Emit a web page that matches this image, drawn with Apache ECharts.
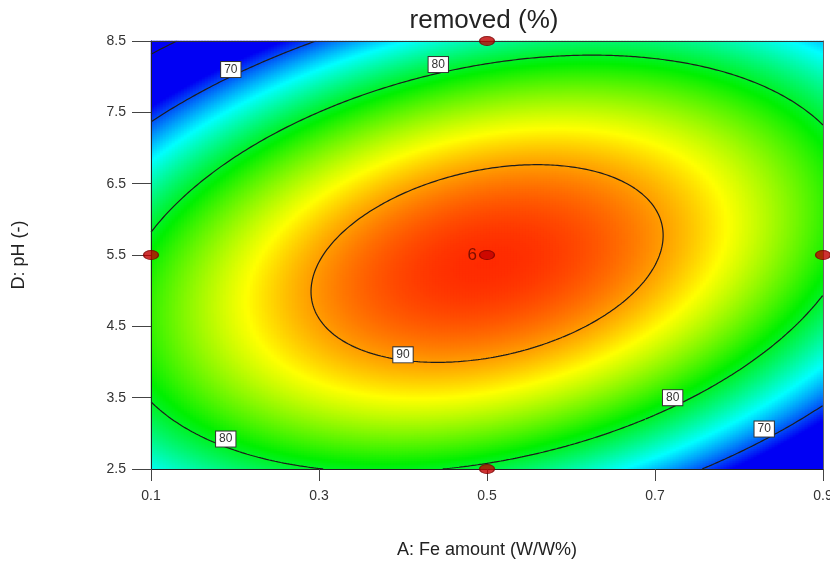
<!DOCTYPE html>
<html>
<head>
<meta charset="utf-8">
<script src="https://cdn.jsdelivr.net/npm/echarts@6/dist/echarts.min.js"></script>
<style>
  html, body { margin: 0; padding: 0; background: #fff; overflow: hidden; }
  #chart { width: 830px; height: 564px; }
</style>
</head>
<body>
<div id="chart"></div>
<script>
// ---------------- data ----------------
const titleText = 'removed (%)';
const xName = 'A: Fe amount (W/W%)';
const yName = 'D: pH (-)';
const aRange = [0.1, 0.9];            // factor A, actual units
const dRange = [2.5, 8.5];            // factor D, actual units
const aTicks = [0.1, 0.3, 0.5, 0.7, 0.9];
const dTicks = [2.5, 3.5, 4.5, 5.5, 6.5, 7.5, 8.5];
// quadratic response-surface model estimated from the contours (coded units -1..1)
const modelTerms = ['Intercept', 'A', 'D', 'AD', 'A^2', 'D^2'];
const modelCoef  = [92.88, 0.30, -1.18, 7.4, -11.5, -14.8];
const contourLevels = [60, 70, 80, 90];
// contour labels (level, where the label box sits)
const labelLevel = [70, 80, 80, 80, 70, 90];
const labelA     = [0.195, 0.442, 0.189, 0.721, 0.830, 0.400];
const labelD     = [8.10, 8.17, 2.92, 3.50, 3.06, 4.10];
// design points
const designA    = [0.1, 0.5, 0.5, 0.9, 0.5];
const designD    = [5.5, 8.5, 2.5, 5.5, 5.5];
const designRuns = [1, 1, 1, 1, 6];
// colour scale
const colorMin = 55, colorMax = 94;
const colorRamp = ['#0000f4', '#0000f4', '#0000f4', '#00ffff', '#00f000', '#ffff00', '#ff0000'];

// ---------------- build tables for the library ----------------
const aMid = (aRange[0] + aRange[1]) / 2, aHalf = (aRange[1] - aRange[0]) / 2;
const dMid = (dRange[0] + dRange[1]) / 2, dHalf = (dRange[1] - dRange[0]) / 2;
function predict(A, D) {
  const a = (A - aMid) / aHalf, d = (D - dMid) / dHalf, c = modelCoef;
  return c[0] + c[1] * a + c[2] * d + c[3] * a * d + c[4] * a * a + c[5] * d * d;
}
const NX = 224, NY = 214;
const xCats = [], yCats = [], cells = [];
for (let i = 0; i < NX; i++) xCats.push(String(i));
for (let j = 0; j < NY; j++) yCats.push(String(j));
for (let i = 0; i < NX; i++) {
  const A = aRange[0] + (i + 0.5) * (aRange[1] - aRange[0]) / NX;
  for (let j = 0; j < NY; j++) {
    const D = dRange[0] + (j + 0.5) * (dRange[1] - dRange[0]) / NY;
    cells.push([i, j, predict(A, D)]);
  }
}
// contour lines of the quadratic model (ellipses around the stationary point)
const [b0, bA, bD, bAD, bAA, bDD] = modelCoef;
const det = 4 * bAA * bDD - bAD * bAD;
const a0 = (-2 * bA * bDD + bAD * bD) / det;
const d0 = (-2 * bAA * bD + bA * bAD) / det;
const ys = b0 + 0.5 * (bA * a0 + bD * d0);
const P = -bAA, Qd = -bDD, Rm = -bAD / 2;
const hh = Math.sqrt(((P - Qd) / 2) ** 2 + Rm * Rm);
const l1 = (P + Qd) / 2 + hh, l2 = (P + Qd) / 2 - hh;
const th = 0.5 * Math.atan2(2 * Rm, P - Qd);
function contourPoints(level) {
  const k = ys - level, pts = [];
  if (k <= 0) return pts;
  const s1 = Math.sqrt(k / l1), s2 = Math.sqrt(k / l2);
  const N = 4000;
  for (let n = 0; n <= N; n++) {
    const t = n / N * 2 * Math.PI;
    const e1 = s1 * Math.cos(t), e2 = s2 * Math.sin(t);
    const u = e1 * Math.cos(th) - e2 * Math.sin(th);
    const v = e1 * Math.sin(th) + e2 * Math.cos(th);
    const A = aMid + aHalf * (a0 + u), D = dMid + dHalf * (d0 + v);
    const inside = A >= aRange[0] && A <= aRange[1] && D >= dRange[0] && D <= dRange[1];
    pts.push(inside ? [A, D] : ['-', '-']);
  }
  return pts;
}

const FONT = '"Liberation Sans", Arial, Helvetica, sans-serif';
const fmt = v => (Math.round(v * 10) / 10).toFixed(1);

const series = [{
  type: 'heatmap',
  xAxisIndex: 0, yAxisIndex: 0,
  data: cells,
  progressive: 0,
  silent: true,
  z: 1
}];
contourLevels.forEach(L => {
  series.push({
    type: 'line', xAxisIndex: 1, yAxisIndex: 1,
    data: contourPoints(L),
    connectNulls: false,
    showSymbol: false, symbol: 'none', clip: true, silent: true,
    lineStyle: { color: '#1c1c1c', width: 1.2 },
    z: 3
  });
});
series.push({
  type: 'scatter', xAxisIndex: 1, yAxisIndex: 1,
  data: labelLevel.map((l, i) => [labelA[i], labelD[i], l]),
  symbol: 'rect', symbolSize: 1,
  itemStyle: { color: '#ffffff', opacity: 1 },
  silent: true, z: 6,
  label: {
    show: true, position: 'inside',
    formatter: p => String(p.value[2]),
    fontFamily: FONT, fontSize: 12, color: '#333', opacity: 1,
    backgroundColor: '#ffffff', borderColor: '#333', borderWidth: 1,
    padding: [2, 3, 1, 3]
  }
});
series.push({
  type: 'scatter', xAxisIndex: 1, yAxisIndex: 1,
  data: designA.map((a, i) => [a, designD[i], designRuns[i]]),
  symbol: 'circle', symbolSize: [15, 9], clip: false, silent: true, z: 20,
  itemStyle: { color: '#c00000', borderColor: '#7a0000', borderWidth: 1 },
  label: {
    show: true, position: 'left', distance: 2,
    formatter: p => (p.value[2] > 1 ? String(p.value[2]) : ''),
    fontFamily: FONT, fontSize: 17, color: '#5a0800'
  }
});

const chart = echarts.init(document.getElementById('chart'), null, { renderer: 'canvas' });
chart.setOption({
  animation: false,
  backgroundColor: '#fff',
  graphic: [{
    type: 'text', x: 484, y: 21, z: 50,
    style: { text: titleText, fontFamily: FONT, fontSize: 26, fill: '#222', align: 'center', verticalAlign: 'middle' }
  }],
  grid: { left: 151, right: 7, top: 41, bottom: 95, containLabel: false, outerBoundsMode: 'none' },
  visualMap: {
    type: 'continuous', show: false, seriesIndex: 0, dimension: 2,
    min: colorMin, max: colorMax,
    inRange: { color: colorRamp }
  },
  xAxis: [{
    type: 'category', data: xCats, show: false, boundaryGap: true
  }, {
    type: 'value', position: 'bottom', min: aRange[0], max: aRange[1], z: 10,
    name: xName, nameLocation: 'middle', nameGap: 72,
    nameTextStyle: { fontFamily: FONT, fontSize: 18, color: '#222' },
    splitLine: { show: false },
    axisLine: { show: true, onZero: false, lineStyle: { color: '#222', width: 1 } },
    axisTick: { show: true, length: 12, customValues: aTicks, lineStyle: { color: '#444' } },
    axisLabel: { customValues: aTicks, formatter: fmt, margin: 20, fontFamily: FONT, fontSize: 14, color: '#333' }
  }, {
    type: 'value', position: 'top', min: aRange[0], max: aRange[1], z: 10,
    splitLine: { show: false }, axisTick: { show: false }, axisLabel: { show: false },
    axisLine: { show: true, onZero: false, lineStyle: { color: '#333', width: 1 } }
  }],
  yAxis: [{
    type: 'category', data: yCats, show: false, boundaryGap: true
  }, {
    type: 'value', position: 'left', min: dRange[0], max: dRange[1], z: 10,
    name: yName, nameLocation: 'middle', nameGap: 123, nameRotate: 90,
    nameTextStyle: { fontFamily: FONT, fontSize: 18, color: '#222' },
    splitLine: { show: false },
    axisLine: { show: true, onZero: false, lineStyle: { color: '#222', width: 1 } },
    axisTick: { show: true, length: 19, customValues: dTicks, lineStyle: { color: '#444' } },
    axisLabel: { customValues: dTicks, formatter: fmt, margin: 25, fontFamily: FONT, fontSize: 14, color: '#333' }
  }, {
    type: 'value', position: 'right', min: dRange[0], max: dRange[1], z: 10,
    splitLine: { show: false }, axisTick: { show: false }, axisLabel: { show: false },
    axisLine: { show: true, onZero: false, lineStyle: { color: '#666', width: 1 } }
  }],
  series: series
});
</script>
</body>
</html>
